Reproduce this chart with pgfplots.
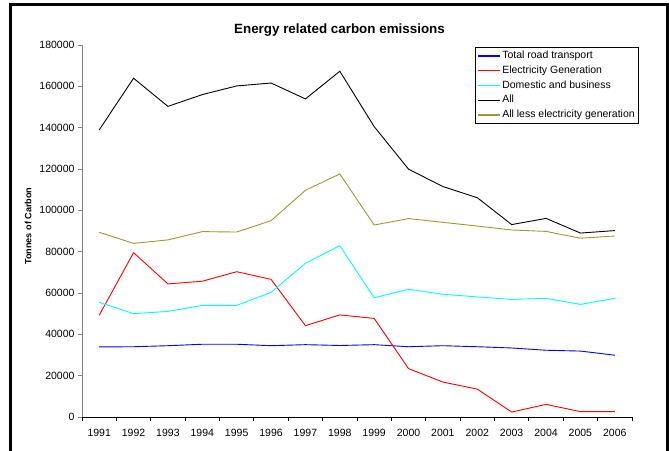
\documentclass[border=0pt]{standalone}
\usepackage{fontspec}
\setmainfont{Liberation Sans}
\usepackage{pgfplots}
\pgfplotsset{compat=1.18}

\definecolor{bluel}{RGB}{0,0,255}
\definecolor{redl}{RGB}{255,0,0}
\definecolor{cyanl}{RGB}{0,255,255}
\definecolor{olivel}{RGB}{153,153,51}

\begin{document}
\begin{tikzpicture}
\useasboundingbox (0pt,0pt) rectangle (669pt,450pt);
% outer chart frame (cut off at the bottom)
\draw[line width=3pt] (10.5pt,-3pt) -- (10.5pt,445.7pt) -- (667.5pt,445.7pt) -- (667.5pt,-3pt);

\node[font=\fontsize{13.4}{15}\selectfont\bfseries] at (339.5pt,420pt) {Energy related carbon emissions};

\begin{axis}[
    at={(82pt,33pt)}, anchor=south west,
    scale only axis, width=550pt, height=372pt,
    xmin=1990.5, xmax=2006.5, ymin=0, ymax=180000,
    axis x line=bottom, axis y line=left,
    axis line style={-},
    x axis line style={draw=black, line width=0.8pt},
    y axis line style={draw=gray, line width=0.8pt},
    tick align=outside,
    xtick={1991,...,2006},
    xticklabels={1991,1992,1993,1994,1995,1996,1997,1998,1999,2000,2001,2002,2003,2004,2005,2006},
    xticklabel style={yshift=-5pt},
    major x tick style={draw=none},
    minor xtick={1990.5,1991.5,...,2006.5},
    minor x tick style={draw=black, line width=0.8pt},
    minor tick length=4pt,
    ytick={0,20000,...,180000},
    yticklabels={0,20000,40000,60000,80000,100000,120000,140000,160000,180000},
    major tick length=4pt,
    y tick style={draw=gray, line width=0.8pt},
    scaled y ticks=false,
    tick label style={font=\fontsize{10.5}{12}\selectfont},
    ylabel={Tonnes of Carbon},
    ylabel style={at={(axis description cs:-0.098,0.513)}, anchor=center, font=\fontsize{9.1}{11}\selectfont\bfseries},
    legend style={at={(axis description cs:0.7145,0.9946)}, anchor=north west,
        draw, line width=0.8pt, fill=white,
        font=\fontsize{10.5}{12}\selectfont,
        row sep=2pt, inner sep=2pt,
        nodes={inner sep=1.5pt, text height=7.6pt, text depth=2.2pt}},
    legend cell align=left,
    legend image code/.code={\draw[#1, line width=1.4pt] (-1pt,0pt) -- (21pt,0pt);},
    every axis plot/.append style={line width=0.9pt, mark=none},
]
\addplot[draw=bluel] coordinates {
 (1991,33900) (1992,34000) (1993,34500) (1994,35200) (1995,35200) (1996,34500) (1997,35000) (1998,34600)
 (1999,35000) (2000,34000) (2001,34500) (2002,34000) (2003,33400) (2004,32300) (2005,31900) (2006,29900)
};
\addlegendentry{Total road transport}
\addplot[draw=redl] coordinates {
 (1991,49200) (1992,79500) (1993,64400) (1994,65700) (1995,70300) (1996,66600) (1997,44200) (1998,49400)
 (1999,47700) (2000,23400) (2001,16900) (2002,13500) (2003,2400) (2004,6100) (2005,2600) (2006,2600)
};
\addlegendentry{Electricity Generation}
\addplot[draw=cyanl] coordinates {
 (1991,55500) (1992,50000) (1993,51100) (1994,54000) (1995,54000) (1996,60300) (1997,74400) (1998,82900)
 (1999,57700) (2000,61800) (2001,59400) (2002,58100) (2003,56900) (2004,57400) (2005,54500) (2006,57400)
};
\addlegendentry{Domestic and business}
\addplot[draw=black] coordinates {
 (1991,138900) (1992,163900) (1993,150300) (1994,156000) (1995,160200) (1996,161600) (1997,153900) (1998,167300)
 (1999,140500) (2000,119900) (2001,111500) (2002,106100) (2003,93100) (2004,96100) (2005,89000) (2006,90200)
};
\addlegendentry{All}
\addplot[draw=olivel] coordinates {
 (1991,89400) (1992,84000) (1993,85700) (1994,89700) (1995,89500) (1996,95000) (1997,109700) (1998,117600)
 (1999,92900) (2000,96000) (2001,94200) (2002,92400) (2003,90500) (2004,89800) (2005,86500) (2006,87600)
};
\addlegendentry{All less electricity generation}
\end{axis}
\end{tikzpicture}
\end{document}
